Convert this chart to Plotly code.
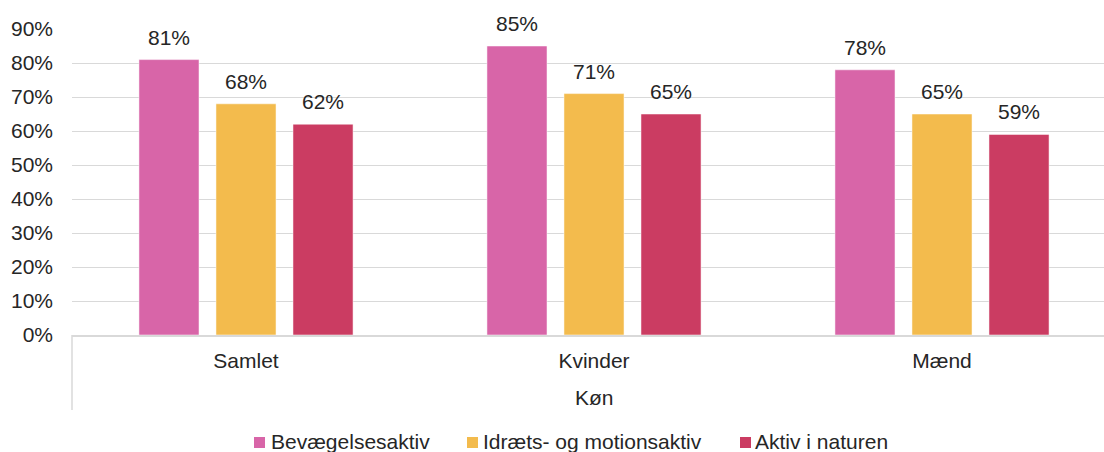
import plotly.graph_objects as go

categories = ["Samlet", "Kvinder", "Mænd"]
series_names = ["Bevægelsesaktiv", "Idræts- og motionsaktiv", "Aktiv i naturen"]
bevaegelse = [81, 85, 78]
idraet = [68, 71, 65]
natur = [62, 65, 59]
y_ticks = [0, 10, 20, 30, 40, 50, 60, 70, 80, 90]
colors = ["#D865A8", "#F3BB4D", "#CB3C62"]

values = [bevaegelse, idraet, natur]
FONT = "Liberation Sans, Arial, sans-serif"
TXT = "#262626"
FS = 21

# pixel helpers (plot area: x 72..1104, y 29..335)
L, T, PW, PH = 72, 29, 1032, 306
def px(x):
    return (x - L) / PW
def py(y):
    return (T + PH - y) / PH

fig = go.Figure()
xs = list(range(len(categories)))
for name, vals, col in zip(series_names, values, colors):
    fig.add_trace(go.Bar(
        x=xs, y=vals, name=name, showlegend=False,
        marker=dict(color=col, line=dict(color="rgba(255,255,255,0.5)", width=1)),
        hoverinfo="skip",
    ))

# data labels
slot = 77 / 348
for si, vals in enumerate(values):
    off = (si - 1) * slot
    for ci, v in enumerate(vals):
        fig.add_annotation(x=ci + off, y=v, xref="x", yref="y", text=f"{v}%",
                           showarrow=False, yanchor="bottom", yshift=9,
                           font=dict(family=FONT, size=FS, color=TXT))

# axis title
fig.add_annotation(x=px(594), y=py(397), xref="paper", yref="paper",
                   text="Køn", showarrow=False, yanchor="middle", xanchor="center",
                   font=dict(family=FONT, size=FS, color=TXT))

# left divider of the category axis
fig.add_shape(type="line", xref="paper", yref="paper", x0=0, x1=0, y0=0,
              y1=py(410), line=dict(color="#d9d9d9", width=1.5))

# custom legend
sq_x = [254, 467, 740]
txt_x = [269, 481, 753]
for name, col, sx, tx in zip(series_names, colors, sq_x, txt_x):
    fig.add_shape(type="rect", xref="paper", yref="paper",
                  x0=px(sx), x1=px(sx + 11), y0=py(437), y1=py(448),
                  fillcolor=col, line=dict(width=0))
    fig.add_annotation(x=px(tx), y=py(441), xref="paper", yref="paper",
                       text=name, showarrow=False, xanchor="left", yanchor="middle",
                       font=dict(family=FONT, size=FS, color=TXT))

fig.update_layout(
    width=1104, height=452,
    margin=dict(l=L, r=0, t=T, b=452 - T - PH, autoexpand=False),
    paper_bgcolor="white", plot_bgcolor="white",
    barmode="group", bargap=0.336, bargroupgap=0.22,
    font=dict(family=FONT, size=FS, color=TXT),
    showlegend=False,
    xaxis=dict(range=[-0.5, -0.5 + PW / 348], tickvals=xs, ticktext=categories,
               showgrid=False, zeroline=False, showline=True, linecolor="#d9d9d9",
               linewidth=2, ticks="", ticklabelstandoff=6, automargin=False,
               tickfont=dict(family=FONT, size=FS, color=TXT)),
    yaxis=dict(range=[0, 90], tickvals=y_ticks, ticktext=[f"{t}%" for t in y_ticks],
               showgrid=True, gridcolor="#d9d9d9", gridwidth=1, zeroline=False,
               showline=False, ticks="", ticklabelstandoff=18, automargin=False,
               tickfont=dict(family=FONT, size=FS, color=TXT)),
)

fig.write_html(
    "out.html",
    config={"displayModeBar": False, "staticPlot": True},
    post_script="document.body.style.margin='0';document.body.style.overflow='hidden';",
)
